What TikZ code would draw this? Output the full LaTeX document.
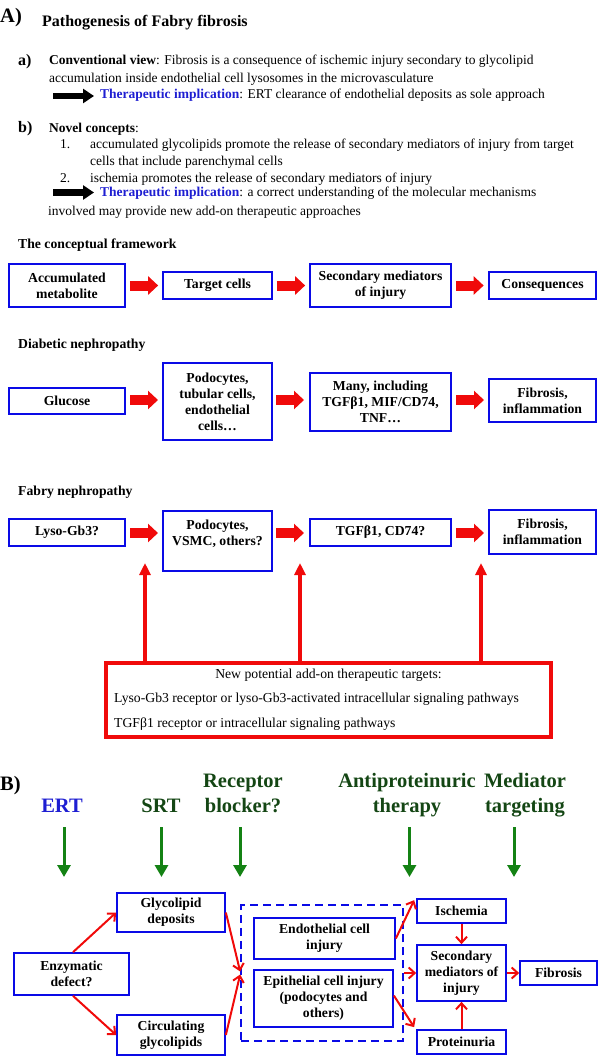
\documentclass[tikz,border=0pt]{standalone}
\usepackage{fontspec}
\setmainfont{Liberation Serif}
\usetikzlibrary{arrows.meta}
\definecolor{boxblue}{RGB}{10,10,230}
\definecolor{myred}{RGB}{240,10,10}
\definecolor{thblue}{RGB}{30,30,210}
\definecolor{dgreen}{RGB}{20,70,20}
\definecolor{agreen}{RGB}{20,130,20}
\newcommand\bodyfont{\fontsize{13.5}{16.5}\selectfont}
\newcommand\bxfont{\fontsize{13.7}{16}\selectfont\bfseries}
\newcommand\labfont{\fontsize{16}{19}\selectfont\bfseries}
\newcommand\bigfont{\fontsize{20.5}{25}\selectfont\bfseries}
\newcommand\thimpl{\textcolor{thblue}{\textbf{Therapeutic implication}}}
\begin{document}
\begin{tikzpicture}[x=1pt,y=-1pt,
  txt/.style={anchor=base west, inner sep=0pt, font=\bodyfont},
  hd/.style={anchor=base west, inner sep=0pt, font=\bxfont},
  bx/.style={draw=boxblue, line width=2.2pt, align=center, inner sep=0pt, font=\bxfont},
  rbx/.style={draw=myred, line width=3.8pt, inner sep=0pt},
  dbx/.style={draw=boxblue, line width=2.2pt, dash pattern=on 8pt off 5pt, inner sep=0pt},
  blockarr/.style={draw=myred, line width=10pt, -{Triangle[length=10pt,width=18pt]}},
  blackarr/.style={draw=black, line width=6.5pt, -{Triangle[length=11pt,width=14pt]}},
  uparr/.style={draw=myred, line width=3.5pt, -{Triangle[length=12pt,width=11pt]}},
  garr/.style={draw=agreen, line width=3pt, -{Triangle[length=12pt,width=13pt]}},
  sarr/.style={draw=myred, line width=2pt, -{Straight Barb[length=6pt,width=11pt]}},
  blab/.style={anchor=base, inner sep=0pt, font=\bigfont}
]
\useasboundingbox (0,0) rectangle (600,1057);

% ---------- Part A text ----------
\node[anchor=base west, inner sep=0pt, font=\bigfont] (A) at (0,22.7) {A)};
\node[anchor=base west, inner sep=0pt, font=\fontsize{16}{19}\selectfont\bfseries] (title) at (42,27) {Pathogenesis of Fabry fibrosis};

\node[anchor=base west, inner sep=0pt, font=\labfont] (la) at (18,65.5) {a)};
\node[txt] (a1) at (49,65) {\textbf{Conventional view}: Fibrosis is a consequence of ischemic injury secondary to glycolipid};
\node[txt] (a2) at (49,82) {accumulation inside endothelial cell lysosomes in the microvasculature};
\coordinate (ka1) at (53,96);
\coordinate (ka2) at (94,96);
\draw[blackarr] (ka1) -- (ka2);
\node[txt] (a3) at (100,98.3) {\thimpl: ERT clearance of endothelial deposits as sole approach};

\node[anchor=base west, inner sep=0pt, font=\labfont] (lb) at (18,132.5) {b)};
\node[txt] (b0) at (49,132) {\textbf{Novel concepts}:};
\node[txt] (n1) at (60,148) {1.};
\node[txt] (b1) at (90,148) {accumulated glycolipids promote the release of secondary mediators of injury from target};
\node[txt] (b2) at (90,165) {cells that include parenchymal cells};
\node[txt] (n2) at (60,182) {2.};
\node[txt] (b3) at (90,182) {ischemia promotes the release of secondary mediators of injury};
\coordinate (kb1) at (53,192.5);
\coordinate (kb2) at (94,192.5);
\draw[blackarr] (kb1) -- (kb2);
\node[txt] (b4) at (100,196.5) {\thimpl: a correct understanding of the molecular mechanisms};
\node[txt] (b5) at (48,215) {involved may provide new add-on therapeutic approaches};

% ---------- Conceptual framework ----------
\node[hd] (h1) at (18,248) {The conceptual framework};
\node[bx, minimum width=115.5pt, minimum height=42.5pt] (b11) at (67,285.5) {Accumulated\\metabolite};
\node[bx, minimum width=108.5pt, minimum height=26.5pt] (b12) at (217.5,285.5) {Target cells};
\node[bx, minimum width=140.5pt, minimum height=42.5pt] (b13) at (380.5,285.5) {Secondary mediators\\of injury};
\node[bx, minimum width=107.5pt, minimum height=26.5pt] (b14) at (542.5,285.5) {Consequences};
\draw[blockarr] ([xshift=4pt]b11.east) -- ([xshift=-4pt]b12.west);
\draw[blockarr] ([xshift=4pt]b12.east) -- ([xshift=-4pt]b13.west);
\draw[blockarr] ([xshift=4pt]b13.east) -- ([xshift=-4pt]b14.west);

% ---------- Diabetic nephropathy ----------
\node[hd] (h2) at (18,348) {Diabetic nephropathy};
\node[bx, minimum width=115.5pt, minimum height=25.5pt] (b21) at (67,401) {Glucose};
\node[bx, minimum width=108.5pt, minimum height=76.5pt] (b22) at (217.5,401.5) {Podocytes,\\tubular cells,\\endothelial\\cells…};
\node[bx, minimum width=140.5pt, minimum height=57.5pt] (b23) at (380.5,402) {Many, including\\TGFβ1, MIF/CD74,\\TNF…};
\node[bx, minimum width=107.5pt, minimum height=42.5pt] (b24) at (542.5,400.5) {Fibrosis,\\inflammation};
\coordinate (r2a) at (130,400); \coordinate (r2b) at (158,400);
\coordinate (r2c) at (276,400); \coordinate (r2d) at (304,400);
\coordinate (r2e) at (456,400); \coordinate (r2f) at (484,400);
\draw[blockarr] (r2a) -- (r2b);
\draw[blockarr] (r2c) -- (r2d);
\draw[blockarr] (r2e) -- (r2f);

% ---------- Fabry nephropathy ----------
\node[hd] (h3) at (18,495) {Fabry nephropathy};
\node[bx, minimum width=115.5pt, minimum height=26.5pt] (b31) at (67,532.5) {Lyso-Gb3?};
\node[bx, minimum width=108.5pt, minimum height=59.5pt] (b32) at (217.5,541) {Podocytes,\\VSMC, others?\\\mbox{}};
\node[bx, minimum width=140.5pt, minimum height=26.5pt] (b33) at (380.5,532.5) {TGFβ1, CD74?};
\node[bx, minimum width=107.5pt, minimum height=43.5pt] (b34) at (542.5,532) {Fibrosis,\\inflammation};
\coordinate (r3a) at (130,533); \coordinate (r3b) at (158,533);
\coordinate (r3c) at (276,533); \coordinate (r3d) at (304,533);
\coordinate (r3e) at (456,533); \coordinate (r3f) at (484,533);
\draw[blockarr] (r3a) -- (r3b);
\draw[blockarr] (r3c) -- (r3d);
\draw[blockarr] (r3e) -- (r3f);

% ---------- red box ----------
\node[rbx, minimum width=445.2pt, minimum height=74.2pt] (rb) at (328.5,700) {};
\node[anchor=base, inner sep=0pt, font=\fontsize{13.7}{16}\selectfont] (t1) at (328.5,678) {New potential add-on therapeutic targets:};
\node[anchor=base west, inner sep=0pt, font=\fontsize{13.7}{16}\selectfont] (t2) at (114,702) {Lyso-Gb3 receptor or lyso-Gb3-activated intracellular signaling pathways};
\node[anchor=base west, inner sep=0pt, font=\fontsize{13.7}{16}\selectfont] (t3) at (114,727) {TGFβ1 receptor or intracellular signaling pathways};
\coordinate (u1) at (145,563);
\coordinate (u2) at (300,563);
\coordinate (u3) at (481,563);
\draw[uparr] (rb.north -| u1) -- (u1);
\draw[uparr] (rb.north -| u2) -- (u2);
\draw[uparr] (rb.north -| u3) -- (u3);

% ---------- Part B ----------
\node[anchor=base west, inner sep=0pt, font=\bigfont] (B) at (0,790) {B)};
\node[blab, text=thblue] (l1) at (62,812) {ERT};
\node[blab, text=dgreen] (l2) at (161,812) {SRT};
\node[blab, text=dgreen] (l3) at (243,812) {\begin{tabular}[b]{@{}c@{}}Receptor\\blocker?\end{tabular}};
\node[blab, text=dgreen] (l4) at (407,812) {\begin{tabular}[b]{@{}c@{}}Antiproteinuric\\therapy\end{tabular}};
\node[blab, text=dgreen] (l5) at (525,812) {\begin{tabular}[b]{@{}c@{}}Mediator\\targeting\end{tabular}};
\coordinate (g1a) at (64,827);   \coordinate (g1b) at (64,877);
\coordinate (g2a) at (161.5,827); \coordinate (g2b) at (161.5,877);
\coordinate (g3a) at (240,827);  \coordinate (g3b) at (240,877);
\coordinate (g4a) at (409.5,827); \coordinate (g4b) at (409.5,877);
\coordinate (g5a) at (514,827);  \coordinate (g5b) at (514,877);
\draw[garr] (g1a) -- (g1b);
\draw[garr] (g2a) -- (g2b);
\draw[garr] (g3a) -- (g3b);
\draw[garr] (g4a) -- (g4b);
\draw[garr] (g5a) -- (g5b);

\node[bx, minimum width=114.5pt, minimum height=41.5pt] (enz) at (71.5,974) {Enzymatic\\defect?};
\node[bx, minimum width=107.5pt, minimum height=38.5pt] (gly) at (171,912.5) {Glycolipid\\deposits};
\node[bx, minimum width=107.5pt, minimum height=39.5pt] (circ) at (171,1035) {Circulating\\glycolipids};
\node[dbx, minimum width=161.5pt, minimum height=135.5pt] (dash) at (322,973) {};
\node[bx, minimum width=140.5pt, minimum height=40.5pt] (endo) at (324.5,938.5) {Endothelial cell\\injury};
\node[bx, minimum width=138.5pt, minimum height=56.5pt] (epi) at (323.5,998.5) {Epithelial cell injury\\(podocytes and\\others)};
\node[bx, minimum width=88.5pt, minimum height=23.5pt] (isch) at (461.5,911) {Ischemia};
\node[bx, minimum width=88.5pt, minimum height=55.5pt] (sec) at (461.5,973) {Secondary\\mediators of\\injury};
\node[bx, minimum width=88.5pt, minimum height=23.5pt] (prot) at (461.5,1042) {Proteinuria};
\node[bx, minimum width=76.5pt, minimum height=23.5pt] (fib) at (558.5,973) {Fibrosis};

\draw[sarr] ([xshift=1.5pt]enz.north) -- (gly.west);
\draw[sarr] ([xshift=1.5pt]enz.south) -- (circ.west);
\draw[sarr] (gly.east) -- ([yshift=1.5pt]dash.west);
\draw[sarr] (circ.east) -- ([yshift=-1.5pt]dash.west);
\draw[sarr] (endo.east) -- ([xshift=-2pt,yshift=-2pt]isch.north west);
\draw[sarr] (dash.east) -- (sec.west);
\draw[sarr] ([yshift=3pt]epi.east) -- ([xshift=-2pt,yshift=2pt]prot.north west);
\draw[sarr] (isch.south) -- (sec.north);
\draw[sarr] (prot.north) -- (sec.south);
\draw[sarr] (sec.east) -- (fib.west);
\end{tikzpicture}
\end{document}
